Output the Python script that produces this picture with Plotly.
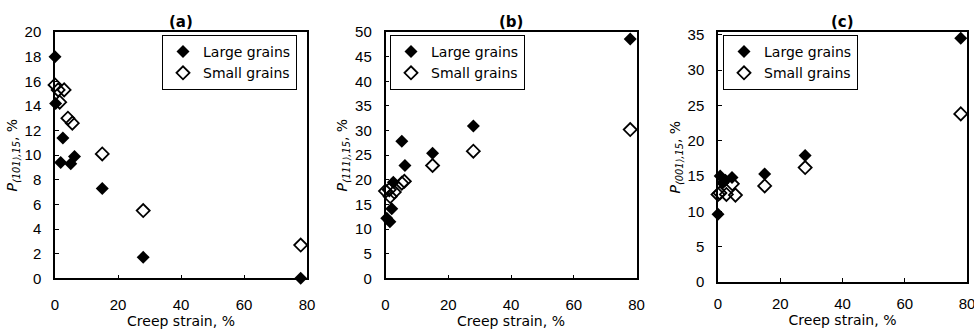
import plotly.graph_objects as go
from plotly.subplots import make_subplots

# Creep strain (%) and fraction of grains within 15 deg of each pole (%)
a_large_strain = [0, 0.2, 1.8, 2.5, 5.0, 6.2, 15, 28, 78]
a_large_p = [18.0, 14.2, 9.4, 11.4, 9.3, 9.9, 7.3, 1.7, 0.0]
a_small_strain = [0, 1.0, 1.5, 2.9, 4.1, 5.5, 15, 28, 78]
a_small_p = [15.7, 15.3, 14.3, 15.3, 13.0, 12.6, 10.1, 5.5, 2.7]

b_large_strain = [0.4, 1.4, 2.0, 2.5, 5.2, 6.2, 15, 28, 78]
b_large_p = [12.2, 11.5, 14.1, 19.5, 27.8, 22.9, 25.4, 30.9, 48.6]
b_small_strain = [0, 1.2, 1.5, 2.8, 5.2, 6.0, 15, 28, 78]
b_small_p = [17.7, 18.0, 16.6, 17.5, 19.3, 19.7, 22.9, 25.8, 30.2]

c_large_strain = [0, 0.7, 1.5, 2.4, 4.5, 15, 28, 78]
c_large_p = [9.6, 15.0, 14.0, 14.4, 14.8, 15.3, 17.9, 34.5]
c_small_strain = [0, 0.6, 2.7, 4.6, 5.6, 15, 28, 78]
c_small_p = [12.4, 12.6, 12.4, 13.9, 12.3, 13.6, 16.2, 23.8]

panel_titles = ["(a)", "(b)", "(c)"]
pole_labels = ["⟨101⟩", "⟨111⟩", "⟨001⟩"]
y_ranges = [[0, 20], [0, 50], [0, 35.35]]
y_dticks = [2, 5, 5]
series_names = ["Large grains", "Small grains"]
x_title = "Creep strain, %"

panels = [
    (a_large_strain, a_large_p, a_small_strain, a_small_p),
    (b_large_strain, b_large_p, b_small_strain, b_small_p),
    (c_large_strain, c_large_p, c_small_strain, c_small_p),
]

W, H = 974, 333
# plot-area edges in pixels: (left, right, top, bottom)
boxes = [(55, 307, 32, 278.3), (385.5, 636.5, 32, 278.3), (718, 967, 32.3, 282)]
legend_pos = [(162, 35), (390, 35), (723, 35)]
# gaps below the x axis: (tick labels, axis title)
x_gaps = [(12, 3), (12, 3), (7, 0)]

fig = make_subplots(rows=1, cols=3)

TICK_FONT = dict(family="Liberation Sans, Arial", size=15, color="black")
TITLE_FONT = dict(family="DejaVu Sans", size=14, color="black")
legend_ids = ["legend", "legend2", "legend3"]

for i, (xl, yl, xs, ys) in enumerate(panels):
    col = i + 1
    fig.add_trace(go.Scatter(
        x=xl, y=yl, mode="markers", name=series_names[0],
        marker=dict(symbol="diamond", size=10, color="black", line=dict(width=0)),
        legend=legend_ids[i], cliponaxis=False,
    ), row=1, col=col)
    fig.add_trace(go.Scatter(
        x=xs, y=ys, mode="markers", name=series_names[1],
        marker=dict(symbol="diamond-open", size=10, color="black", line=dict(width=1.8)),
        legend=legend_ids[i], cliponaxis=False,
    ), row=1, col=col)

    l, r, t, b = boxes[i]
    axis_common = dict(
        showline=True, linecolor="black", linewidth=1.5, mirror=True,
        ticks="inside", ticklen=4, tickcolor="black", tickwidth=1,
        showgrid=False, zeroline=False, tickfont=TICK_FONT, automargin=False,
        ticklabeloverflow="allow",
    )
    fig.update_xaxes(
        domain=[l / W, r / W], range=[0, 80], dtick=20,
        title=dict(text=x_title, font=TITLE_FONT, standoff=x_gaps[i][1]),
        ticklabelstandoff=x_gaps[i][0], **axis_common, row=1, col=col,
    )
    fig.update_yaxes(
        domain=[(H - b) / H, (H - t) / H], range=y_ranges[i], dtick=y_dticks[i],
        tick0=0,
        title=dict(
            text="<i>P</i><sub><i>" + pole_labels[i] + ",15</i></sub>, %",
            font=dict(family="DejaVu Sans", size=14, color="black"), standoff=4,
        ),
        ticklabelstandoff=9, **axis_common, row=1, col=col,
    )

    fig.add_annotation(
        text="<b>" + panel_titles[i] + "</b>", xref="paper", yref="paper",
        x=(l + r) / 2 / W, y=1 - 22 / H, xanchor="center", yanchor="middle",
        showarrow=False, font=dict(family="DejaVu Sans", size=15, color="black"),
    )

    lx, ly = legend_pos[i]
    fig.update_layout({legend_ids[i]: dict(
        x=lx / W, y=1 - ly / H, xanchor="left", yanchor="top",
        bgcolor="white", bordercolor="black", borderwidth=1,
        font=dict(family="DejaVu Sans", size=14, color="black"),
        itemwidth=30, tracegroupgap=0,
    )})

fig.update_layout(
    width=W, height=H, autosize=False,
    margin=dict(l=0, r=0, t=0, b=0, autoexpand=False),
    paper_bgcolor="white", plot_bgcolor="white",
    showlegend=True,
)

fig.write_html("out.html")
